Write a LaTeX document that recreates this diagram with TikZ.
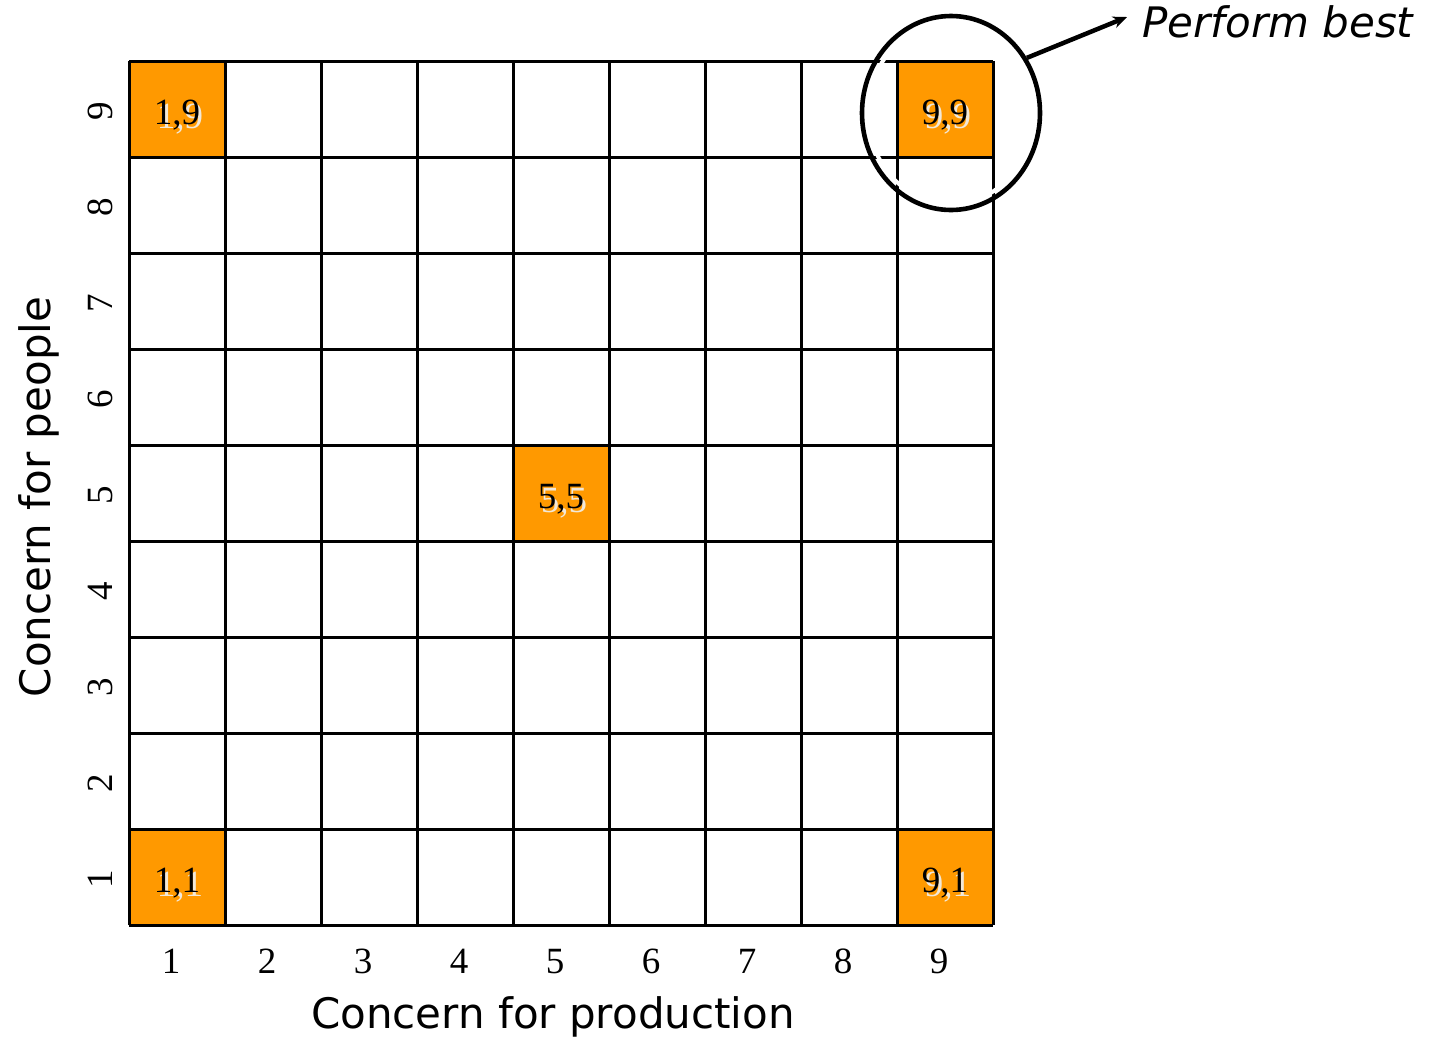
\documentclass[tikz,border=0pt]{standalone}
\usepackage{fontspec}
\setmainfont{Liberation Serif}
\newfontfamily\verd{DejaVu Sans}
\usetikzlibrary{arrows.meta,shapes.geometric}
\definecolor{cellorange}{HTML}{FF9900}
\definecolor{shadowcream}{HTML}{F2E8D8}
\begin{document}
\begin{tikzpicture}[x=1pt,y=-1pt,
  gridline/.style={line width=3pt,black},
  hotcell/.style={fill=cellorange},
  celltext/.style={font=\fontsize{37}{40}\selectfont,inner sep=0pt,anchor=base},
  ticktext/.style={font=\fontsize{37}{40}\selectfont,inner sep=0pt,anchor=base},
  axistext/.style={font=\verd\fontsize{42}{48}\selectfont,inner sep=0pt,anchor=base},
  ring/.style={ellipse,minimum width=178pt,minimum height=194pt,inner sep=0pt}]
\useasboundingbox (0,0) rectangle (1441,1037);

% highlighted cells of the 9x9 grid
\foreach \i/\j in {1/9,9/9,5/5,1/1,9/1}
  \fill[hotcell] ({129+96*(\i-1)},{925-96*\j}) rectangle ++(96,96);

% grid
\draw[gridline,shift={(129,61)}] (0,0) grid[step=96pt] (864,864);

% cell labels with a light drop shadow
\foreach \i/\j in {1/9,9/9,5/5,1/1,9/1}{
  \node[celltext,shadowcream] (s\i\j) at ({129+96*(\i-0.5)+3},{925-96*(\j-0.5)+15+4}) {\i,\j};
  \node[celltext] (c\i\j) at ({129+96*(\i-0.5)},{925-96*(\j-0.5)+15}) {\i,\j};
}

% axis ticks
\foreach \i in {1,...,9}{
  \node[ticktext] (x\i) at ({129+96*(\i-0.5)-6},973) {\i};
  \node[ticktext,rotate=90] (y\i) at (112,{925-96*(\i-0.5)+2}) {\i};
}

% axis titles
\node[axistext] (xlab) at (553,1028) {Concern for production};
\node[axistext,rotate=90] (ylab) at (50,497) {Concern for people};

% ring around the best cell
\node[ring,draw=white,line width=4pt,minimum width=166pt,minimum height=182pt] (bestw) at (951,113) {};
\node[ring,draw=black,line width=4.6pt] (best) at (951,113) {};

% callout
\node[axistext,font=\verd\itshape\fontsize{42}{48}\selectfont,anchor=base west] (pb) at (1142,37) {Perform best};
\coordinate (tip) at (1127,17);
\draw[line width=4.5pt,-{Stealth[length=14pt,width=12pt]}] (best.36) -- (tip);
\end{tikzpicture}
\end{document}
